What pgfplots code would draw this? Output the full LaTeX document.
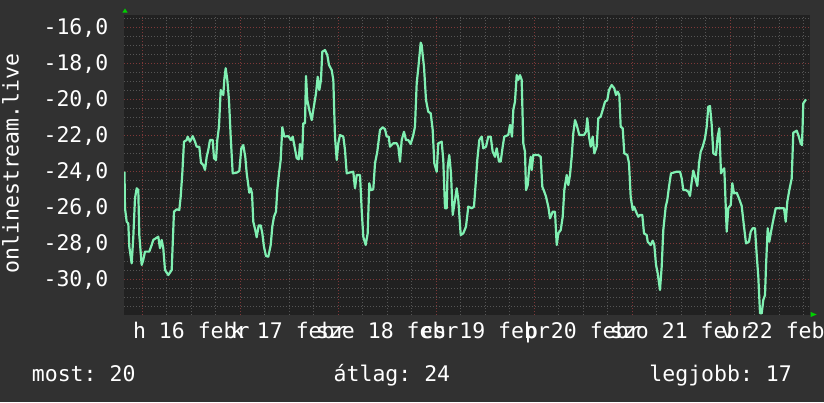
\documentclass[border=0pt]{standalone}
\usepackage{pgfplots}
\pgfplotsset{compat=1.18}
\usepackage{fontspec}
\newfontfamily\rrd{DejaVu Sans Mono}
\definecolor{outerbg}{HTML}{313131}
\definecolor{plotbg}{HTML}{212121}
\definecolor{majorc}{HTML}{7E3838}
\definecolor{minorc}{HTML}{555555}
\definecolor{linec}{HTML}{80F0B2}
\definecolor{arrowc}{HTML}{00D000}
\newcommand{\rrdfont}{\rrd\fontsize{21.5}{24}\selectfont\frenchspacing}
\pgfplotstableread{
h v
-4.36 -24.04
-4.24 -26.07
-3.82 -26.82
-3.43 -26.91
-3.18 -28.21
-2.60 -29.13
-2.20 -27.65
-1.79 -25.52
-1.37 -24.96
-0.98 -25.06
-0.73 -27.56
-0.15 -29.22
0.24 -28.94
0.66 -28.48
1.71 -28.48
2.30 -28.11
2.69 -27.83
3.92 -27.65
4.33 -28.29
4.75 -27.83
5.14 -28.29
5.56 -29.50
6.37 -29.78
7.20 -29.50
7.76 -26.26
8.42 -26.13
9.06 -26.17
9.40 -25.43
9.80 -24.13
10.21 -22.37
10.87 -22.28
11.12 -22.09
11.68 -22.37
12.34 -22.06
12.91 -22.37
13.32 -22.65
13.96 -22.65
14.38 -23.54
14.94 -23.67
15.36 -23.94
15.77 -23.21
16.16 -22.83
16.58 -22.28
17.24 -22.28
17.56 -23.29
18.05 -23.39
18.37 -22.28
18.78 -21.54
19.20 -19.50
19.84 -19.78
20.08 -18.94
20.42 -18.29
20.82 -18.94
21.23 -20.06
21.65 -22.09
22.14 -24.13
23.12 -24.09
23.76 -24.00
24.25 -22.74
24.73 -22.56
25.22 -23.21
25.57 -24.13
25.96 -24.78
26.20 -25.21
26.55 -24.96
26.87 -25.24
27.18 -26.82
27.67 -27.28
28.02 -27.68
28.51 -27.02
29.00 -27.02
29.39 -27.46
29.80 -28.21
30.29 -28.72
30.86 -28.76
31.45 -28.11
31.84 -27.09
32.25 -26.54
32.74 -26.26
33.06 -25.06
33.48 -24.13
33.89 -23.39
34.29 -21.57
34.78 -22.09
35.76 -22.06
36.42 -22.28
36.83 -22.09
37.22 -22.56
37.81 -23.29
38.30 -23.35
38.62 -22.50
39.11 -23.35
39.43 -21.35
39.85 -21.35
40.09 -18.72
40.41 -20.06
40.90 -20.61
41.49 -21.17
41.88 -20.61
42.54 -19.68
42.96 -18.76
43.35 -19.50
43.76 -18.94
44.08 -17.37
44.74 -17.28
45.31 -17.56
45.72 -18.11
46.38 -18.39
46.78 -18.94
47.19 -22.09
47.61 -23.39
48.00 -22.46
48.42 -22.00
49.23 -22.09
49.64 -22.83
50.06 -24.13
50.69 -24.09
51.67 -24.04
52.09 -24.96
52.51 -24.22
53.32 -24.22
53.73 -26.17
54.12 -27.65
54.71 -28.11
55.20 -27.46
55.59 -24.68
56.01 -25.06
56.57 -25.02
56.99 -23.57
57.55 -22.93
58.21 -21.72
58.87 -21.57
59.44 -21.68
59.85 -22.09
60.34 -22.09
60.66 -22.65
61.47 -22.46
62.30 -22.46
62.70 -22.65
63.11 -23.48
63.53 -22.28
64.09 -21.82
64.58 -22.28
65.14 -22.28
65.73 -22.50
66.37 -22.00
66.78 -21.54
67.20 -19.13
67.59 -18.29
68.18 -16.87
68.42 -17.00
68.67 -17.56
68.99 -18.21
69.48 -20.06
70.04 -20.71
70.63 -20.79
71.12 -21.72
71.51 -23.57
72.10 -24.04
72.49 -22.46
73.32 -22.37
73.71 -23.39
74.13 -26.07
74.55 -26.07
74.79 -23.76
75.18 -23.11
75.60 -24.13
76.02 -26.44
76.58 -25.61
77.00 -24.96
77.39 -25.61
77.98 -27.56
78.61 -27.46
79.27 -27.09
79.84 -25.98
80.67 -26.07
81.23 -25.98
81.65 -24.68
82.04 -23.39
82.53 -22.28
83.12 -22.09
83.51 -22.74
84.17 -22.65
84.74 -22.09
85.32 -22.09
85.81 -22.93
86.38 -23.21
86.79 -22.74
87.36 -23.48
87.77 -23.48
88.26 -22.65
88.65 -22.09
89.63 -22.00
90.05 -21.44
90.54 -22.09
90.86 -20.61
91.27 -20.15
91.69 -18.67
92.08 -18.94
92.50 -18.67
92.91 -18.94
93.31 -22.46
93.72 -22.93
93.97 -25.06
94.39 -24.78
94.78 -23.76
95.12 -23.21
95.37 -23.94
95.76 -23.11
96.98 -23.11
97.57 -23.21
97.96 -24.87
98.45 -25.15
98.87 -25.43
99.43 -25.98
99.85 -26.63
100.51 -26.26
101.07 -26.26
101.49 -28.11
101.88 -27.46
102.47 -27.28
102.96 -26.54
103.35 -25.06
103.94 -24.22
104.33 -24.78
104.74 -24.22
105.16 -23.21
105.55 -21.91
105.97 -21.17
106.39 -21.44
107.02 -22.00
108.17 -22.00
108.66 -21.82
108.98 -21.07
109.40 -22.09
109.81 -22.65
110.30 -22.09
110.70 -23.02
111.28 -22.65
111.68 -21.07
112.26 -20.98
112.75 -20.61
113.32 -20.15
113.88 -20.06
114.29 -19.50
114.96 -19.22
115.59 -19.41
116.01 -19.78
116.42 -19.59
116.82 -19.78
117.16 -21.54
117.65 -21.63
118.04 -23.02
118.78 -23.11
119.19 -23.57
119.61 -25.43
120.10 -26.17
120.42 -25.98
121.08 -26.35
121.47 -26.54
121.89 -26.44
122.45 -26.44
122.87 -27.46
123.53 -27.56
123.77 -27.93
124.51 -28.11
125.00 -27.87
125.39 -28.11
125.81 -29.22
126.22 -29.68
126.78 -30.61
127.20 -29.32
127.59 -27.28
128.18 -25.98
128.57 -25.61
128.99 -24.87
129.48 -24.13
130.87 -24.04
131.68 -24.04
132.10 -24.41
132.49 -25.06
133.15 -25.06
133.72 -25.15
134.13 -25.39
134.55 -24.59
134.94 -23.98
135.36 -24.32
135.92 -24.83
136.34 -23.57
136.75 -22.93
137.24 -22.65
137.81 -22.18
138.22 -21.54
138.61 -20.43
139.03 -20.39
139.45 -21.44
139.84 -23.02
140.50 -23.11
140.91 -22.09
141.31 -21.63
141.72 -24.13
142.14 -23.94
142.53 -23.85
143.12 -27.37
143.51 -26.07
144.10 -25.89
144.49 -24.68
144.91 -25.24
145.57 -25.21
146.13 -25.52
146.79 -25.94
147.36 -27.09
147.85 -28.02
148.58 -27.93
149.00 -27.37
149.49 -27.18
150.05 -27.18
150.47 -28.67
150.86 -29.87
151.28 -31.91
151.69 -31.91
152.08 -31.17
152.50 -30.89
152.74 -29.32
153.16 -27.18
153.55 -27.93
154.14 -27.18
154.53 -26.72
155.12 -26.07
156.18 -26.07
157.16 -26.07
157.57 -26.82
157.96 -25.71
158.45 -25.06
159.04 -24.41
159.43 -21.87
160.26 -21.76
160.66 -22.00
161.24 -22.46
161.56 -22.56
161.88 -20.24
162.54 -20.02
}\datatable
\begin{document}
\begin{tikzpicture}[x=1pt,y=1pt]
\useasboundingbox (0,0) rectangle (824,402);
\fill[outerbg] (0,0) rectangle (824,402);
\clip (0,0) rectangle (824,402);
\begin{axis}[
  at={(124pt,87pt)}, anchor=south west,
  scale only axis, width=686pt, height=300pt,
  xmin=-4.48, xmax=163.52, ymin=-32, ymax=-15.333,
  axis line style={draw=none},
  major tick length=0pt, minor tick length=0pt,
  axis background/.style={fill=plotbg},
  xtick={0,24,48,72,96,120,144}, xticklabels={},
  minor xtick={6,12,18,30,36,42,54,60,66,78,84,90,102,108,114,126,132,138,150,156,162},
  ytick={-30,-28,-26,-24,-22,-20,-18,-16},
  yticklabels={{-30,0},{-28,0},{-26,0},{-24,0},{-22,0},{-20,0},{-18,0},{-16,0}},
  minor ytick={-31.5,-31,-30.5,-29.5,-29,-28.5,-27.5,-27,-26.5,-25.5,-25,-24.5,-23.5,-23,-22.5,-21.5,-21,-20.5,-19.5,-19,-18.5,-17.5,-17,-16.5,-15.5},
  grid=both,
  major grid style={draw=majorc, line width=1pt, dash pattern=on 1pt off 2pt},
  minor grid style={draw=minorc, line width=1pt, dash pattern=on 1pt off 2pt},
  extra x ticks={12,36,60,84,108,132,156},
  extra x tick labels={h 16 febr,k 17 febr,sze 18 febr,cs 19 febr,p 20 febr,szo 21 febr,v 22 febr},
  extra x tick style={grid=none, xticklabel style={anchor=base, inner sep=0pt, yshift=-23.3pt}},
  ticklabel style={font=\rrdfont, text=white},
  yticklabel style={anchor=base east, inner sep=0pt, xshift=-15.5pt, yshift=-7.8pt},
]
\addplot[linec, line width=2.2pt, line join=round, mark=none] table[x=h, y=v] {\datatable};
\end{axis}
\fill[arrowc] (122.3,389.3) -- (127.7,389.3) -- (125,393.5) -- cycle;
\fill[arrowc] (810.7,90) -- (810.7,85) -- (816.7,87.5) -- cycle;
\node[font=\rrdfont, text=white, anchor=base west, inner sep=0pt] at (31.7,20.5) {most: 20};
\node[font=\rrdfont, text=white, anchor=base west, inner sep=0pt] at (333.5,20.5) {átlag: 24};
\node[font=\rrdfont, text=white, anchor=base east, inner sep=0pt] at (792,20.5) {legjobb: 17};
\node[font=\rrdfont, text=white, rotate=90, anchor=base, inner sep=0pt] at (18.5,238.5) {onlinestream.live};
\end{tikzpicture}
\end{document}
